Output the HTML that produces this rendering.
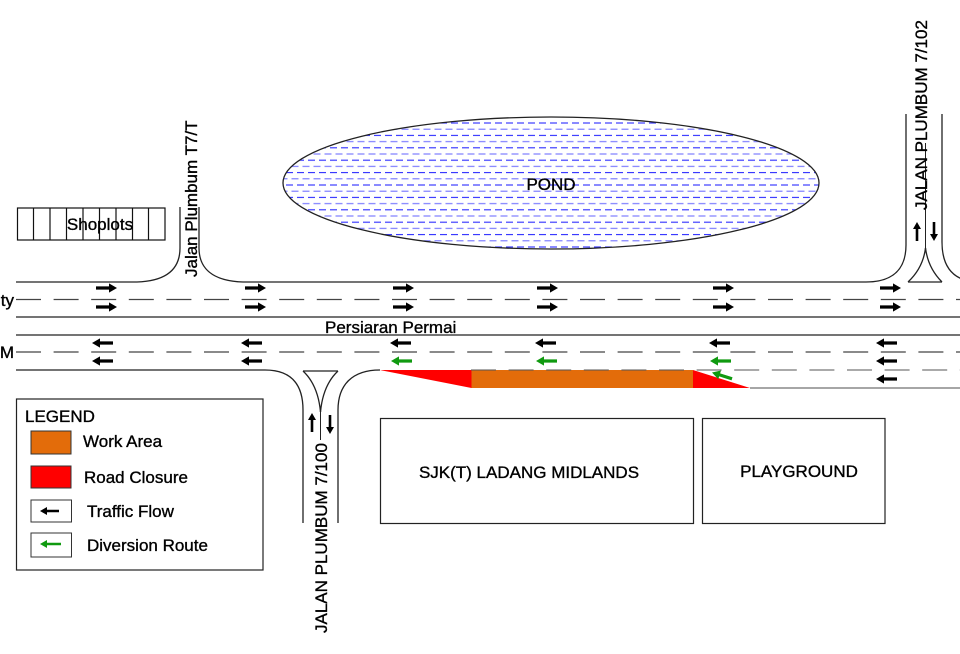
<!DOCTYPE html>
<html>
<head>
<meta charset="utf-8">
<style>
html,body{margin:0;padding:0;background:#fff;}
svg{display:block;}
text{font-family:"Liberation Sans",Arial,sans-serif;font-size:17px;fill:#000;stroke:#000;stroke-width:0.35px;}
</style>
</head>
<body>
<svg width="960" height="654" viewBox="0 0 960 654" xmlns="http://www.w3.org/2000/svg">
<defs>
  <pattern id="water" patternUnits="userSpaceOnUse" width="11" height="12.4" x="0" y="120">
    <line x1="0" y1="3" x2="7" y2="3" stroke="#2a2aff" stroke-width="1.1"/>
    <line x1="5.5" y1="9.2" x2="11" y2="9.2" stroke="#7070ff" stroke-width="1.1"/>
    <line x1="0" y1="9.2" x2="1.5" y2="9.2" stroke="#7070ff" stroke-width="1.1"/>
  </pattern>
  <path id="ra" d="M0,-1.6 H13 V-4.6 L21,0 L13,4.6 V1.6 H0 Z" fill="#000"/>
  <path id="la" d="M21,-1.6 H8 V-4.6 L0,0 L8,4.6 V1.6 H21 Z" fill="#000"/>
  <path id="ga" d="M21,-1.6 H8 V-4.6 L0,0 L8,4.6 V1.6 H21 Z" fill="#109a10"/>
  <path id="va" d="M19,-1.3 H7 V-4 L0,0 L7,4 V1.3 H19 Z" fill="#000"/>
</defs>

<!-- Pond -->
<ellipse cx="551" cy="183" rx="268" ry="66" fill="url(#water)" stroke="#222" stroke-width="1.3"/>
<text x="551" y="190" text-anchor="middle">POND</text>

<!-- Shoplots -->
<g fill="none" stroke="#111" stroke-width="1.2">
  <rect x="17.5" y="208" width="147.5" height="32"/>
  <line x1="33.5" y1="208" x2="33.5" y2="240"/>
  <line x1="50" y1="208" x2="50" y2="240"/>
  <line x1="66.5" y1="208" x2="66.5" y2="240"/>
  <line x1="83" y1="208" x2="83" y2="240"/>
  <line x1="99.5" y1="208" x2="99.5" y2="240"/>
  <line x1="116" y1="208" x2="116" y2="240"/>
  <line x1="132.5" y1="208" x2="132.5" y2="240"/>
  <line x1="148.5" y1="208" x2="148.5" y2="240"/>
</g>
<text x="100" y="230" text-anchor="middle">Shoplots</text>

<!-- Road edges -->
<g fill="none" stroke="#222" stroke-width="1.3">
  <path d="M16,282 H137 C168,281 180,268 180,248 V207"/>
  <path d="M199,207 V248 C199,268 212,281 243,282 H866 C894,282 906,268 906,245 V114"/>
  <path d="M942,114 V242 C942,266 952,280 975,282"/>
  <path d="M908,282 H942"/>
  <path d="M908,282 Q923,268 925.5,248"/>
  <path d="M942,282 Q928,268 925.5,248"/>
  <line x1="925.5" y1="143" x2="925.5" y2="248" stroke-width="1"/>
  <line x1="16" y1="317" x2="960" y2="317"/>
  <line x1="16" y1="335" x2="960" y2="335"/>
  <path d="M16,370 H265 C292,370 303,385 303,410 V523"/>
  <path d="M338,523 V410 C338,385 352,370 380,370"/>
  <path d="M303,371 H338"/>
  <path d="M303,371 Q318,385 320.5,412"/>
  <path d="M338,371 Q323,385 320.5,412"/>
  <line x1="320.5" y1="412" x2="320.5" y2="440" stroke-width="1"/>
</g>

<!-- Centre dashed lines -->
<g stroke="#444" stroke-width="1.2" stroke-dasharray="25 12.6" fill="none">
  <line x1="16" y1="299.5" x2="960" y2="299.5"/>
  <line x1="16" y1="352" x2="960" y2="352"/>
</g>

<!-- Work zone -->
<polygon points="380,370 471.5,370 471.5,388" fill="#ff0000"/>
<rect x="471.5" y="370" width="221.5" height="18" fill="#e36c0a"/>
<polygon points="693,370 693,388 750,388" fill="#ff0000"/>
<line x1="471" y1="370" x2="960" y2="370" stroke="#555" stroke-width="1.2" stroke-dasharray="25 12.6" opacity="0.8"/>
<line x1="750" y1="388" x2="960" y2="388" stroke="#888" stroke-width="1.6"/>

<!-- Upper carriageway arrows (right) -->
<use href="#ra" x="96" y="288"/><use href="#ra" x="96" y="307"/>
<use href="#ra" x="245" y="288"/><use href="#ra" x="245" y="307"/>
<use href="#ra" x="393" y="288"/><use href="#ra" x="393" y="307"/>
<use href="#ra" x="537" y="288"/><use href="#ra" x="537" y="307"/>
<use href="#ra" x="713" y="288"/><use href="#ra" x="713" y="307"/>
<use href="#ra" x="880" y="288"/><use href="#ra" x="880" y="307"/>

<!-- Lower carriageway arrows (left) -->
<use href="#la" x="92" y="343"/><use href="#la" x="92" y="361"/>
<use href="#la" x="241" y="343"/><use href="#la" x="241" y="361"/>
<use href="#la" x="390" y="343"/><use href="#ga" x="391" y="361"/>
<use href="#la" x="535" y="343"/><use href="#ga" x="536" y="361"/>
<use href="#la" x="709" y="343"/><use href="#ga" x="710" y="361"/>
<use href="#ga" transform="translate(712,372.5) rotate(17.5)"/>
<use href="#la" x="876" y="343"/><use href="#la" x="876" y="361"/><use href="#la" x="876" y="379"/>

<!-- Side road arrows -->
<use href="#va" transform="translate(312,413) rotate(90)"/>
<use href="#va" transform="translate(330,434) rotate(-90)"/>
<use href="#va" transform="translate(917,222) rotate(90)"/>
<use href="#va" transform="translate(934,241) rotate(-90)"/>

<!-- Road labels -->
<text x="325" y="333">Persiaran Permai</text>
<text x="14" y="306" text-anchor="end">ty</text>
<text x="14" y="358" text-anchor="end">M</text>
<text transform="translate(197,277) rotate(-90)">Jalan Plumbum T7/T</text>
<text transform="translate(327,633) rotate(-90)">JALAN PLUMBUM 7/100</text>
<text transform="translate(927,210) rotate(-90)">JALAN PLUMBUM 7/102</text>

<!-- Buildings -->
<rect x="380.5" y="418.5" width="313" height="105" fill="none" stroke="#222" stroke-width="1.2"/>
<text x="529" y="478" text-anchor="middle">SJK(T) LADANG MIDLANDS</text>
<rect x="702.5" y="418.5" width="182.5" height="105" fill="none" stroke="#222" stroke-width="1.2"/>
<text x="799" y="477" text-anchor="middle">PLAYGROUND</text>

<!-- Legend -->
<rect x="16.5" y="399" width="246.5" height="171" fill="#fff" stroke="#222" stroke-width="1.2"/>
<text x="25" y="422">LEGEND</text>
<rect x="31" y="431" width="40" height="23" fill="#e36c0a" stroke="#333" stroke-width="1"/>
<text x="83" y="447">Work Area</text>
<rect x="31" y="466" width="40" height="22" fill="#ff0000" stroke="#333" stroke-width="1"/>
<text x="84" y="483">Road Closure</text>
<rect x="31" y="500" width="40.5" height="22" fill="#fff" stroke="#333" stroke-width="1"/>
<use href="#va" x="40" y="511"/>
<text x="87" y="517">Traffic Flow</text>
<rect x="31" y="533" width="40.5" height="24" fill="#fff" stroke="#333" stroke-width="1"/>
<path d="M61,542.7 H47 V540 L40,544 L47,548 V545.3 H61 Z" fill="#109a10"/>
<text x="87" y="551">Diversion Route</text>
</svg>
</body>
</html>
